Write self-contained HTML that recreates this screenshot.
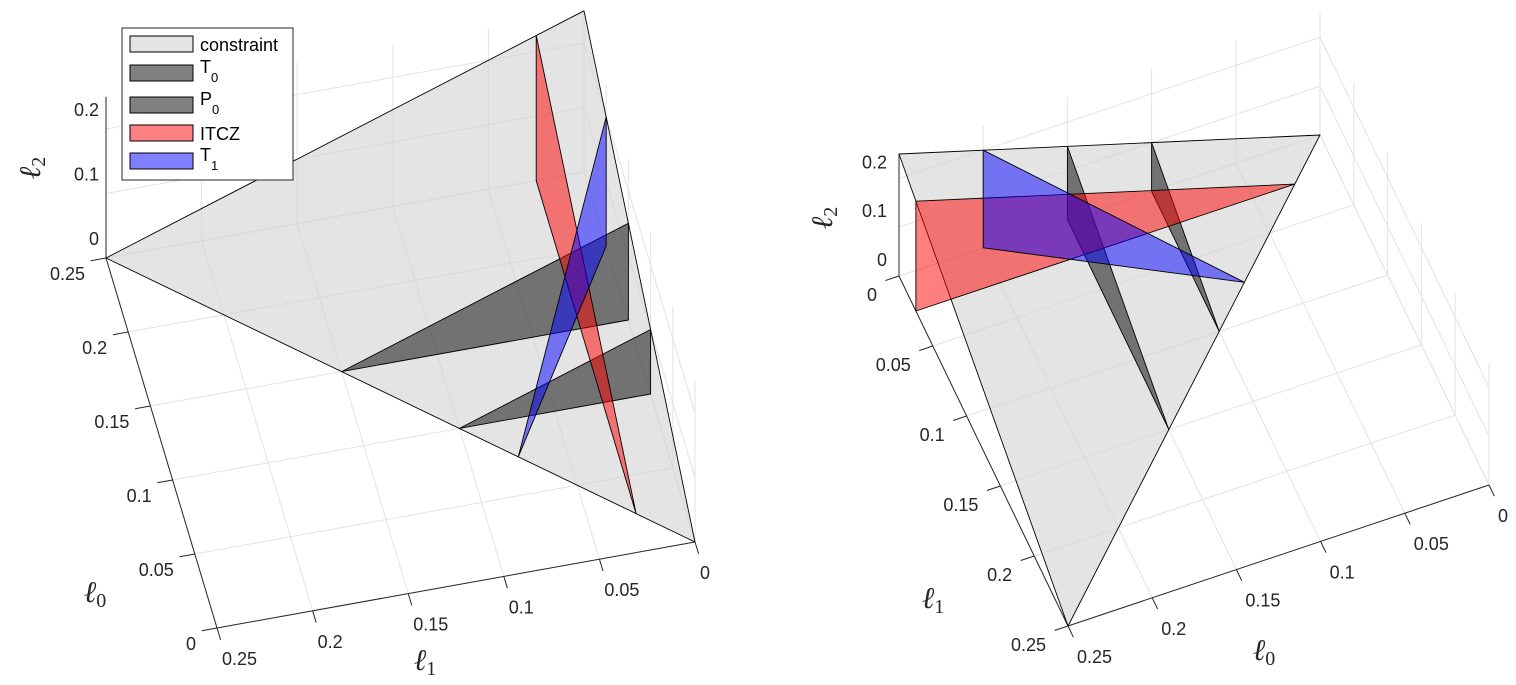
<!DOCTYPE html>
<html><head><meta charset="utf-8"><style>
html,body{margin:0;padding:0;background:#fff;}
svg{display:block;font-family:"Liberation Sans",sans-serif;}
.tk{font-size:18px;fill:#262626;}
.ax{font-family:"Liberation Serif",serif;font-style:italic;font-size:30px;fill:#262626;}
.lg{font-size:18px;fill:#000;}
</style></head><body>
<svg id="fig" width="1516" height="685" viewBox="0 0 1516 685" xmlns="http://www.w3.org/2000/svg">
<g id="left"></g>
<g id="right"></g>
<g>
<rect x="122" y="28" width="171" height="152" fill="#fff" stroke="#262626" stroke-width="1"/>
<rect x="130" y="36" width="63" height="16" fill="#e3e3e3" stroke="#000"/>
<text class="lg" x="200" y="51">constraint</text>
<rect x="130" y="65" width="63" height="16" fill="#808080" stroke="#000"/>
<text class="lg" x="200" y="73">T<tspan font-size="13" dy="9">0</tspan></text>
<rect x="130" y="97" width="63" height="16" fill="#808080" stroke="#000"/>
<text class="lg" x="200" y="105">P<tspan font-size="13" dy="9">0</tspan></text>
<rect x="130" y="125" width="63" height="16" fill="#ff8080" stroke="#000"/>
<text class="lg" x="200" y="140">ITCZ</text>
<rect x="130" y="153" width="63" height="16" fill="#8080ff" stroke="#000"/>
<text class="lg" x="200" y="161">T<tspan font-size="13" dy="9">1</tspan></text>
</g>
</svg>
<script>
// ---- data ----
const ticksL0 = [0, 0.05, 0.1, 0.15, 0.2, 0.25];
const ticksL1 = [0, 0.05, 0.1, 0.15, 0.2, 0.25];
const ticksL2 = [0, 0.1, 0.2];
const gridL2 = [0, 0.1, 0.2];
const tickLabelsL = ['0', '0.05', '0.1', '0.15', '0.2', '0.25'];
const tickLabelsZ = ['0', '0.1', '0.2'];
// surfaces: [l0, l1, l2] vertices
const constraintSurf = [[0.25,0.25,0],[0.25,0,0.25],[0,0,0]];
const t0Surf = [[0.15,0.15,0],[0.15,0,0],[0.15,0,0.15]];
const p0Surf = [[0.1,0.1,0],[0.1,0,0],[0.1,0,0.1]];
const itczSurf = [[0.25,0.025,0],[0.25,0.025,0.225],[0.025,0.025,0]];
const t1Surf = [[0.2,0,0],[0.2,0,0.2],[0.075,0.075,0]];

const NS = 'http://www.w3.org/2000/svg';
function mk(parent, tag, attrs){
  const e = document.createElementNS(NS, tag);
  for (const k in attrs) e.setAttribute(k, attrs[k]);
  parent.appendChild(e); return e;
}
function projL(p){ return [217 - 444*p[0] - 1912*(p[1]-0.25), 628 - 1480*p[0] + 344*(p[1]-0.25) - 645*p[2]]; }
function projR(p){ return [1489 - 1684*p[0] + 676*(p[1]-0.25), 485 + 564*p[0] + 1400*(p[1]-0.25) - 488*p[2]]; }

function line(g, P, a, b, col, w, name){
  const A = P(a), B = P(b);
  const e = mk(g, 'line', {x1:A[0].toFixed(1), y1:A[1].toFixed(1), x2:B[0].toFixed(1), y2:B[1].toFixed(1), stroke:col, 'stroke-width':w});
  
  
  return e;
}
function poly(g, P, pts, fill, op, name){
  const s = pts.map(p => P(p).map(v => v.toFixed(1)).join(',')).join(' ');
  const e = mk(g, 'polygon', {points:s, fill:fill, 'fill-opacity':op, stroke:'#000', 'stroke-width':0.9, 'stroke-linejoin':'round'});
  
  
}
function txt(g, x, y, s, cls, anchor, name){
  const e = mk(g, 'text', {x:x.toFixed(1), y:y.toFixed(1), class:cls, 'text-anchor':anchor});
  e.textContent = s;
  
  
  return e;
}
function axTitle(g, x, y, sub, rot, name){
  const e = mk(g, 'text', {x:x, y:y, class:'ax', 'text-anchor':'middle'});
  if (rot) e.setAttribute('transform', 'rotate(-90 ' + x + ' ' + y + ')');
  e.textContent = 'ℓ';
  const t = mk(e, 'tspan', {'font-size':'20', 'font-style':'normal', dy:'5'});
  t.textContent = sub;
  
  
}
const GC = '#e3e3e3';

function drawGrid(g, P, wallA, wallB){
  ticksL0.forEach(v => line(g, P, [v,0,0], [v,0.25,0], GC, 1, 'grid-base-l0'));
  ticksL1.forEach(v => line(g, P, [0,v,0], [0.25,v,0], GC, 1, 'grid-base-l1'));
  ticksL0.forEach(v => line(g, P, [v,wallA,0], [v,wallA,0.25], GC, 1, 'grid-wall-vertical'));
  gridL2.forEach(z => line(g, P, [0,wallA,z], [0.25,wallA,z], GC, 1, 'grid-wall-horizontal'));
  ticksL1.forEach(v => line(g, P, [wallB,v,0], [wallB,v,0.25], GC, 1, 'grid-wall-vertical'));
  gridL2.forEach(z => line(g, P, [wallB,0,z], [wallB,0.25,z], GC, 1, 'grid-wall-horizontal'));
}
function drawSurfaces(g, P){
  poly(g, P, constraintSurf, '#d2d2d2', 0.6, 'constraint-surface');
  poly(g, P, t0Surf, '#000', 0.5, 't0-surface');
  poly(g, P, p0Surf, '#000', 0.5, 'p0-surface');
  poly(g, P, itczSurf, '#ff0000', 0.5, 'itcz-surface');
  poly(g, P, t1Surf, '#0000ff', 0.5, 't1-surface');
}

// ---- left axes ----
(function(){
  const g = document.getElementById('left'), P = projL;
  drawGrid(g, P, 0, 0.25);
  line(g, P, [0.25,0.25,0], [0.25,0.25,0.25], '#262626', 1, 'l2-axis-line');
  line(g, P, [0,0.25,0], [0.25,0.25,0], '#262626', 1, 'l0-axis-line');
  line(g, P, [0,0,0], [0,0.25,0], '#262626', 1, 'l1-axis-line');
  drawSurfaces(g, P);
  ticksL0.forEach((v,i) => {
    line(g, P, [v,0.25,0], [v,0.258,0], '#262626', 1, 'l0-tick');
    const a = P([v,0.25,0]);
    txt(g, a[0]-21, a[1]+22, tickLabelsL[i], 'tk', 'end', 'l0-tick-label');
  });
  ticksL1.forEach((v,i) => {
    line(g, P, [0,v,0], [-0.008,v,0], '#262626', 1, 'l1-tick');
    const a = P([0,v,0]);
    txt(g, a[0]+5, a[1]+37, tickLabelsL[i], 'tk', 'start', 'l1-tick-label');
  });
  ticksL2.forEach((v,i) => {
    const a = P([0.25,0.25,v]);
    txt(g, a[0]-7, a[1]-13, tickLabelsZ[i], 'tk', 'end', 'l2-tick-label');
  });
  axTitle(g, 40, 168, '2', true, 'l2-axis-title');
  axTitle(g, 95, 602, '0', false, 'l0-axis-title');
  axTitle(g, 425, 670, '1', false, 'l1-axis-title');
})();

// ---- right axes ----
(function(){
  const g = document.getElementById('right'), P = projR;
  drawGrid(g, P, 0, 0);
  line(g, P, [0.25,0,0], [0.25,0,0.25], '#262626', 1, 'l2-axis-line');
  line(g, P, [0.25,0,0], [0.25,0.25,0], '#262626', 1, 'l1-axis-line');
  line(g, P, [0,0.25,0], [0.25,0.25,0], '#262626', 1, 'l0-axis-line');
  drawSurfaces(g, P);
  ticksL1.forEach((v,i) => {
    line(g, P, [0.25,v,0], [0.258,v,0], '#262626', 1, 'l1-tick');
    const a = P([0.25,v,0]);
    txt(g, a[0]-22, a[1]+25, tickLabelsL[i], 'tk', 'end', 'l1-tick-label');
  });
  ticksL0.forEach((v,i) => {
    line(g, P, [v,0.25,0], [v,0.258,0], '#262626', 1, 'l0-tick');
    const a = P([v,0.25,0]);
    txt(g, a[0]+9, a[1]+37, tickLabelsL[i], 'tk', 'start', 'l0-tick-label');
  });
  ticksL2.forEach((v,i) => {
    const a = P([0.25,0,v]);
    txt(g, a[0]-12, a[1]-10, tickLabelsZ[i], 'tk', 'end', 'l2-tick-label');
  });
  axTitle(g, 832, 218, '2', true, 'l2-axis-title');
  axTitle(g, 933, 608, '1', false, 'l1-axis-title');
  axTitle(g, 1264, 660, '0', false, 'l0-axis-title');
})();
</script>
</body></html>
